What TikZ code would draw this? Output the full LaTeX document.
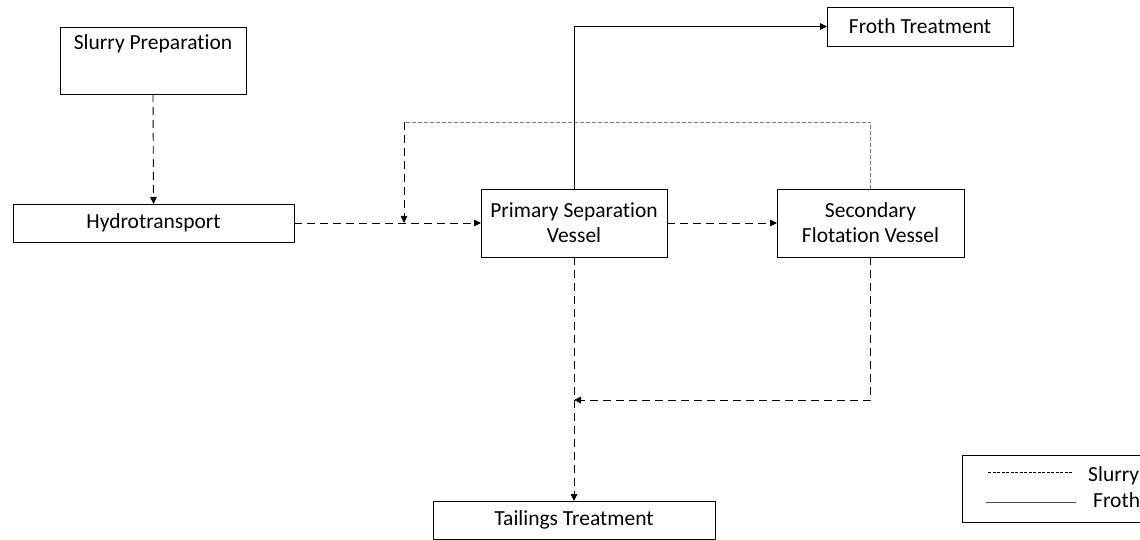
\documentclass[tikz,border=0pt]{standalone}
\usepackage{fontspec}
\setmainfont[Ligatures={NoCommon,NoContextual}]{Carlito}
\usetikzlibrary{arrows.meta}
\begin{document}
\begin{tikzpicture}[x=1pt,y=-1pt,
  every node/.style={font=\fontsize{21.5}{25}\selectfont},
  box/.style={draw,line width=0.9pt,inner sep=0pt,outer sep=0pt,align=center},
  tip/.style={-{Triangle[length=7pt,width=6.5pt]}},
  slurry/.style={line width=0.9pt,dash pattern=on 8pt off 5pt},
  recycle/.style={line width=0.8pt,gray,dash pattern=on 4pt off 2pt},
  froth/.style={line width=0.9pt}]
\useasboundingbox (0,0) rectangle (1140,540);
\node[box,minimum width=186,minimum height=67] (sp) at (153,60.5) {Slurry Preparation\\[4pt]\strut};
\node[box,minimum width=281,minimum height=38] (hy) at (153.5,223) {Hydrotransport};
\node[box,minimum width=186,minimum height=68] (psv) at (574,223) {Primary Separation\\Vessel};
\node[box,minimum width=187,minimum height=68] (sfv) at (870.5,223) {Secondary\\Flotation Vessel};
\node[box,minimum width=186,minimum height=39] (ft) at (920,26.5) {Froth Treatment};
\node[box,minimum width=282,minimum height=38] (tt) at (574,520) {Tailings Treatment};
\node[box,minimum width=180,minimum height=67,anchor=north west] (leg) at (962,455) {};
\coordinate (merge) at (404,223);
\coordinate (rc) at (404,122);
\coordinate (join) at (574,400);
\draw[slurry,tip] (sp.south) -- (hy.north);
\draw[slurry,tip] (hy.east) -- (psv.west);
\draw[recycle] (sfv.north) |- (rc);
\draw[slurry,tip] (rc) -- (merge);
\draw[froth,tip] (psv.north) |- (ft.west);
\draw[slurry,tip] (psv.east) -- (sfv.west);
\draw[slurry,tip] (psv.south) -- (tt.north);
\draw[slurry,tip] (sfv.south) |- (join);
% legend
\coordinate (l1a) at (988,472); \coordinate (l1b) at (1073,472);
\coordinate (l2a) at (986,502); \coordinate (l2b) at (1076,502);
\draw[line width=0.6pt,dash pattern=on 3pt off 1.5pt] (l1a) -- (l1b);
\draw[line width=0.8pt,black!70] (l2a) -- (l2b);
\node[anchor=base west,inner sep=0pt] (ls) at (1088,481) {Slurry};
\node[anchor=base west,inner sep=0pt] (lf) at (1093,507) {Froth};
\end{tikzpicture}
\end{document}
